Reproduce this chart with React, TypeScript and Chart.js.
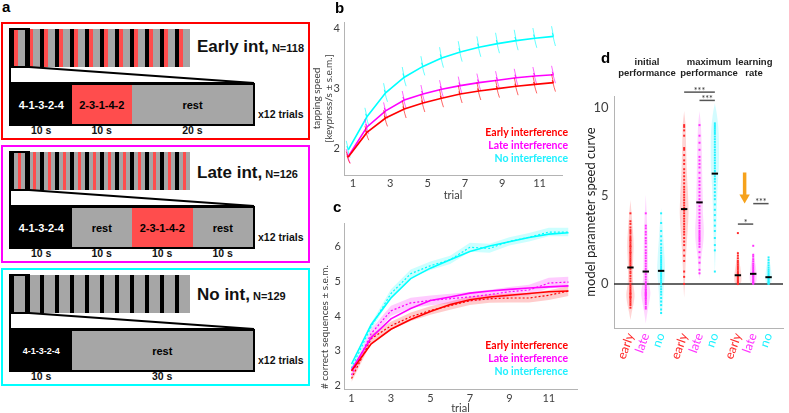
import React, { useEffect, useRef } from 'react';
import { Chart, registerables } from 'chart.js';

Chart.register(...registerables);

// ---------------- panel a data ----------------
const GROUP_NAMES = ['Early int', 'Late int', 'No int'];
const GROUP_N = [118, 126, 129];
const TRIAL_COUNT = 12;
const EARLY_BLOCKS = ['4-1-3-2-4', '2-3-1-4-2', 'rest'];
const EARLY_SECONDS = [10, 10, 20];
const LATE_BLOCKS = ['4-1-3-2-4', 'rest', '2-3-1-4-2', 'rest'];
const LATE_SECONDS = [10, 10, 10, 10];
const NO_BLOCKS = ['4-1-3-2-4', 'rest'];
const NO_SECONDS = [10, 30];

// ---------------- panel b data ----------------
const TRIALS = [1, 2, 3, 4, 5, 6, 7, 8, 9, 10, 11, 12];
const TRIAL_TICKS = [1, 3, 5, 7, 9, 11];
const SPEED_TICKS = [2, 3, 4];
const LEGEND_LABELS = ['Early interference', 'Late interference', 'No interference'];
const SPEED_FIT_EARLY = [1.85, 2.26, 2.5, 2.65, 2.75, 2.83, 2.9, 2.95, 2.99, 3.03, 3.06, 3.09];
const SPEED_FIT_LATE = [1.86, 2.35, 2.62, 2.8, 2.9, 2.98, 3.04, 3.09, 3.13, 3.17, 3.2, 3.22];
const SPEED_FIT_NO = [1.97, 2.52, 2.92, 3.18, 3.36, 3.5, 3.6, 3.68, 3.74, 3.79, 3.83, 3.86];
const SPEED_WITHIN_EARLY = [
  [1.94, 1.84, 1.87, 1.78, 1.74], [2.37, 2.25, 2.29, 2.18, 2.13], [2.63, 2.5, 2.54, 2.42, 2.36],
  [2.79, 2.65, 2.69, 2.57, 2.5], [2.89, 2.75, 2.79, 2.67, 2.6], [2.97, 2.83, 2.87, 2.75, 2.68],
  [3.04, 2.9, 2.94, 2.82, 2.75], [3.09, 2.95, 2.99, 2.87, 2.8], [3.13, 2.99, 3.03, 2.91, 2.84],
  [3.17, 3.03, 3.07, 2.95, 2.88], [3.2, 3.06, 3.1, 2.98, 2.91], [3.23, 3.09, 3.13, 3.01, 2.94],
];
const SPEED_WITHIN_LATE = [
  [1.98, 1.87, 1.9, 1.8, 1.75], [2.48, 2.36, 2.4, 2.29, 2.23], [2.76, 2.63, 2.67, 2.55, 2.49],
  [2.95, 2.81, 2.85, 2.73, 2.66], [3.05, 2.91, 2.95, 2.83, 2.76], [3.13, 2.99, 3.03, 2.91, 2.84],
  [3.19, 3.05, 3.09, 2.97, 2.9], [3.24, 3.1, 3.14, 3.02, 2.95], [3.28, 3.14, 3.18, 3.06, 2.99],
  [3.32, 3.18, 3.22, 3.1, 3.03], [3.35, 3.21, 3.25, 3.13, 3.06], [3.37, 3.23, 3.27, 3.15, 3.08],
];
const SPEED_WITHIN_NO = [
  [2.12, 1.99, 2.03, 1.9, 1.84], [2.67, 2.53, 2.57, 2.44, 2.38], [3.08, 2.93, 2.97, 2.84, 2.77],
  [3.35, 3.19, 3.24, 3.1, 3.03], [3.53, 3.37, 3.42, 3.28, 3.21], [3.68, 3.51, 3.56, 3.42, 3.34],
  [3.78, 3.61, 3.66, 3.52, 3.44], [3.86, 3.69, 3.74, 3.6, 3.52], [3.92, 3.75, 3.8, 3.66, 3.58],
  [3.97, 3.8, 3.85, 3.71, 3.63], [4.0, 3.84, 3.89, 3.75, 3.67], [4.03, 3.87, 3.92, 3.78, 3.7],
];

// ---------------- panel c data ----------------
const SEQ_TICKS = [2, 3, 4, 5, 6];
const SEQ_EARLY_MEAN = [2.42, 3.2, 3.62, 3.9, 4.13, 4.33, 4.47, 4.55, 4.6, 4.65, 4.7, 4.72];
const SEQ_EARLY_ALT = [2.2, 3.35, 3.72, 3.98, 4.16, 4.3, 4.44, 4.5, 4.52, 4.52, 4.6, 4.72];
const SEQ_EARLY_SEM = [0.1, 0.12, 0.12, 0.12, 0.12, 0.12, 0.12, 0.12, 0.13, 0.13, 0.14, 0.14];
const SEQ_LATE_MEAN = [2.45, 3.38, 3.92, 4.22, 4.45, 4.55, 4.66, 4.72, 4.77, 4.81, 4.84, 4.87];
const SEQ_LATE_ALT = [2.3, 3.5, 4.15, 4.38, 4.45, 4.5, 4.55, 4.62, 4.7, 4.75, 4.95, 4.98];
const SEQ_LATE_SEM = [0.1, 0.13, 0.15, 0.15, 0.14, 0.14, 0.14, 0.14, 0.14, 0.15, 0.15, 0.15];
const SEQ_NO_MEAN = [2.62, 3.76, 4.52, 5.08, 5.38, 5.62, 5.86, 6.02, 6.14, 6.26, 6.36, 6.4];
const SEQ_NO_ALT = [2.5, 3.7, 4.65, 5.22, 5.45, 5.62, 5.98, 5.95, 6.15, 6.27, 6.42, 6.42];
const SEQ_NO_SEM = [0.1, 0.1, 0.12, 0.12, 0.12, 0.12, 0.13, 0.13, 0.12, 0.12, 0.12, 0.12];

// ---------------- panel d data ----------------
const PARAM_GROUP_TITLES = [['initial', 'performance'], ['maximum', 'performance'], ['learning', 'rate']];
const PARAM_TICK_LABELS = ['early', 'late', 'no', 'early', 'late', 'no', 'early', 'late', 'no'];
const PARAM_Y_TICKS = [0, 5, 10];
const PARAM_INIT_EARLY = [4.0, 3.55, 3.4, 3.2, 3.05, 2.95, 2.85, 2.7, 2.6, 2.5, 2.45, 2.35, 2.25, 2.15, 2.1, 2.0, 1.9, 1.8, 1.75, 1.65, 1.55, 1.45, 1.35, 1.25, 1.15, 1.05, 0.95, 0.85, 0.7, 0.6, 0.45, 0.3, 0.15, 0.0, -0.1, -0.2, -0.3, -0.4, -0.5, -0.55, -0.6, -0.7, -0.75, -0.8, -0.9, -1.0, -1.1, -1.2, -1.35];
const PARAM_INIT_LATE = [4.0, 3.3, 3.15, 2.95, 2.8, 2.6, 2.45, 2.3, 2.1, 1.9, 1.75, 1.6, 1.45, 1.3, 1.15, 1.0, 0.85, 0.7, 0.55, 0.4, 0.25, 0.1, 0.0, -0.1, -0.2, -0.3, -0.35, -0.45, -0.5, -0.55, -0.6, -0.65, -0.7, -0.8, -0.85, -0.95, -1.05, -1.15, -1.3, -1.4];
const PARAM_INIT_NO = [4.0, 3.45, 3.0, 2.7, 2.45, 2.25, 2.05, 1.9, 1.75, 1.6, 1.5, 1.4, 1.3, 1.2, 1.1, 1.0, 0.9, 0.8, 0.7, 0.6, 0.5, 0.4, 0.3, 0.2, 0.1, 0.0, -0.15, -0.3, -0.45, -0.6, -0.8, -1.0, -1.2, -1.45, -1.65];
const PARAM_MAX_EARLY = [9.0, 8.9, 8.7, 8.4, 7.7, 7.6, 7.3, 7.0, 6.8, 6.5, 6.3, 6.1, 5.9, 5.7, 5.5, 5.35, 5.2, 5.05, 4.9, 4.75, 4.6, 4.45, 4.3, 4.15, 4.0, 3.85, 3.7, 3.55, 3.4, 3.25, 3.1, 2.95, 2.8, 2.6, 2.4, 2.2, 1.9, 1.6, 1.3, 0.7, 0.4, 0.0];
const PARAM_MAX_LATE = [9.0, 8.4, 8.0, 7.6, 7.2, 7.0, 6.8, 6.6, 6.3, 6.0, 5.8, 5.6, 5.4, 5.2, 5.0, 4.8, 4.6, 4.4, 4.2, 4.0, 3.8, 3.6, 3.45, 3.3, 3.15, 3.0, 2.9, 2.8, 2.7, 2.6, 2.5, 2.4, 2.25, 2.1, 1.8, 1.5, 1.2, 0.8, 0.6];
const PARAM_MAX_NO = [9.1, 9.0, 8.9, 8.8, 8.7, 8.6, 8.5, 8.35, 8.2, 8.05, 7.9, 7.75, 7.6, 7.45, 7.3, 7.15, 7.0, 6.85, 6.7, 6.55, 6.4, 6.25, 6.1, 5.95, 5.8, 5.6, 5.4, 5.2, 5.0, 4.8, 4.5, 4.2, 3.9, 3.6, 3.3, 3.0, 2.6, 2.2, 1.9, 0.7];
const PARAM_RATE_EARLY = [2.88, 1.74, 1.6, 1.45, 1.3, 1.2, 1.1, 1.0, 0.9, 0.8, 0.7, 0.62, 0.55, 0.48, 0.4, 0.33, 0.26, 0.2, 0.14, 0.08, 0.03, 0.0];
const PARAM_RATE_LATE = [2.16, 1.65, 1.55, 1.4, 1.28, 1.15, 1.05, 0.95, 0.85, 0.76, 0.68, 0.6, 0.52, 0.45, 0.38, 0.3, 0.23, 0.16, 0.1, 0.05, 0.0];
const PARAM_RATE_NO = [1.5, 1.35, 1.2, 1.05, 0.92, 0.8, 0.7, 0.6, 0.5, 0.42, 0.35, 0.28, 0.2, 0.14, 0.08, 0.03, 0.0];
const PARAM_MEDIANS = [0.93, 0.7, 0.74, 4.24, 4.62, 6.25, 0.49, 0.57, 0.38];
// violin density profiles: [value, relative density]
const DENS_INIT_EARLY = [[4.75, 0], [4.0, 0.25], [3.0, 0.55], [2.2, 0.7], [1.4, 0.6], [0.6, 0.5], [0, 0.6], [-0.6, 0.9], [-1.1, 0.7], [-1.6, 0.3], [-2.05, 0]];
const DENS_INIT_LATE = [[5.05, 0], [4.0, 0.2], [3.0, 0.35], [2.0, 0.45], [1.0, 0.5], [0.2, 0.6], [-0.5, 1.0], [-1.1, 0.7], [-1.7, 0.3], [-2.25, 0]];
const DENS_INIT_NO = [[4.3, 0], [3.5, 0.25], [2.5, 0.5], [1.5, 0.75], [0.8, 0.85], [0.2, 0.7], [-0.5, 0.5], [-1.2, 0.35], [-1.85, 0]];
const DENS_MAX_EARLY = [[9.8, 0], [9.0, 0.3], [7.5, 0.45], [6.0, 0.65], [5.0, 0.85], [4.0, 0.95], [3.0, 0.75], [2.0, 0.5], [1.0, 0.3], [0, 0.15], [-0.8, 0]];
const DENS_MAX_LATE = [[9.8, 0], [9.0, 0.3], [7.5, 0.5], [6.0, 0.6], [5.0, 0.7], [4.0, 0.75], [3.0, 0.95], [2.3, 0.8], [1.5, 0.4], [0.8, 0.2], [0.25, 0]];
const DENS_MAX_NO = [[10.25, 0], [9.5, 0.5], [8.5, 0.85], [7.5, 0.9], [6.5, 0.85], [5.5, 0.6], [4.5, 0.45], [3.5, 0.35], [2.5, 0.25], [1.5, 0.12], [0.6, 0]];
const DENS_RATE_EARLY = [[1.9, 0], [1.5, 0.25], [1.0, 0.5], [0.5, 0.75], [0.1, 0.7], [-0.1, 0]];
const DENS_RATE_LATE = [[1.8, 0], [1.4, 0.3], [1.0, 0.55], [0.5, 0.75], [0.1, 0.65], [-0.05, 0]];
const DENS_RATE_NO = [[1.6, 0], [1.2, 0.3], [0.8, 0.55], [0.4, 0.7], [0.1, 0.6], [-0.05, 0]];
// significance bars: category indices and height in data units
const SIG_FROM = [3, 4, 6, 7];
const SIG_TO = [5, 5, 7, 8];
const SIG_Y = [10.87, 10.4, 3.39, 4.55];
const SIG_MARK = ['***', '***', '*', '***'];
const ARROW_X = 7.44;
const ARROW_FROM = 6.32;
const ARROW_TO = 4.89;

// ---------------- styles ----------------
const RED = '#ff0000';
const MAGENTA = '#ff00ff';
const CYAN = '#00ffff';
const ORANGE = '#f6a21c';
const ARIAL = '"Liberation Sans", Arial, sans-serif';
const LATO = 'Lato, "Open Sans", sans-serif';
const AXIS_GRAY = '#b4b4b4';
const TICK_GRAY = '#404040';
const SERIES_COLORS = [RED, MAGENTA, CYAN];
const CAT_COLOR: Record<string, string> = { early: '#ff2a2a', late: '#ff33ff', no: '#22f2ff' };
const FILL_OF: Record<string, string> = { '4-1-3-2-4': '#000000', '2-3-1-4-2': '#ff4d4d', rest: '#a6a6a6' };
const TEXT_OF: Record<string, string> = { '4-1-3-2-4': '#ffffff', '2-3-1-4-2': '#000000', rest: '#000000' };

function rgba(hex: string, a: number) {
  const n = parseInt(hex.slice(1), 16);
  return `rgba(${(n >> 16) & 255},${(n >> 8) & 255},${n & 255},${a})`;
}
const setTicks = (values: number[]) => (s: any) => { s.ticks = values.map((v) => ({ value: v })); };
const fixW = (w: number) => (s: any) => { s.width = w; };
const fixH = (h: number) => (s: any) => { s.height = h; };
const tickFont = (size: number) => ({ family: LATO, size });

// ---------------- chart b ----------------
const FIT_SHIFT = -0.25;
const WITHIN_OFFSETS = [-0.36, -0.26, -0.32, -0.22, -0.15];

function speedConfig(): any {
  const fits = [SPEED_FIT_EARLY, SPEED_FIT_LATE, SPEED_FIT_NO];
  const within = [SPEED_WITHIN_EARLY, SPEED_WITHIN_LATE, SPEED_WITHIN_NO];
  const datasets: any[] = [];
  fits.forEach((fit, s) => {
    datasets.push({
      data: fit.map((v, i) => ({ x: TRIALS[i] + FIT_SHIFT, y: v })),
      borderColor: SERIES_COLORS[s], borderWidth: 1.6, pointRadius: 0, tension: 0,
    });
    within[s].forEach((vals, i) => {
      datasets.push({
        data: vals.map((v, j) => ({ x: TRIALS[i] + WITHIN_OFFSETS[j], y: v })),
        borderColor: rgba(SERIES_COLORS[s], 0.6), borderWidth: 1, pointRadius: 0,
      });
    });
  });
  return {
    type: 'line',
    data: { datasets },
    options: {
      animation: false, responsive: false, devicePixelRatio: 1,
      layout: { padding: { left: 0, top: 22, right: 10, bottom: 0 } },
      plugins: { legend: { display: false }, tooltip: { enabled: false } },
      scales: {
        x: {
          type: 'linear', bounds: 'data', min: 0.52, max: 12.2,
          afterBuildTicks: setTicks(TRIAL_TICKS), afterFit: fixH(30),
          grid: { display: false, drawTicks: false }, border: { display: true, color: AXIS_GRAY },
          ticks: { color: TICK_GRAY, font: tickFont(11), padding: 2, maxRotation: 0, autoSkip: false },
          title: { display: true, text: 'trial', color: TICK_GRAY, font: tickFont(11), padding: { top: 0, bottom: 3 } },
        },
        y: {
          type: 'linear', bounds: 'data', min: 1.55, max: 4.1,
          afterBuildTicks: setTicks(SPEED_TICKS), afterFit: fixW(44),
          grid: { display: false, drawTicks: false }, border: { display: true, color: AXIS_GRAY },
          ticks: { color: TICK_GRAY, font: tickFont(11), padding: 4 },
          title: { display: true, text: ['tapping speed', '[keypress/s ± s.e.m.]'], color: TICK_GRAY, font: tickFont(10), padding: { top: 11, bottom: 0 } },
        },
      },
    },
  };
}

// ---------------- chart c ----------------
function seqConfig(): any {
  const means = [SEQ_EARLY_MEAN, SEQ_LATE_MEAN, SEQ_NO_MEAN];
  const alts = [SEQ_EARLY_ALT, SEQ_LATE_ALT, SEQ_NO_ALT];
  const sems = [SEQ_EARLY_SEM, SEQ_LATE_SEM, SEQ_NO_SEM];
  const datasets: any[] = [];
  means.forEach((mean, s) => {
    const c = SERIES_COLORS[s];
    datasets.push({ data: alts[s].map((v, i) => ({ x: TRIALS[i], y: v - sems[s][i] })), borderWidth: 0, pointRadius: 0, fill: false, order: 3 });
    datasets.push({ data: alts[s].map((v, i) => ({ x: TRIALS[i], y: v + sems[s][i] })), borderWidth: 0, pointRadius: 0, fill: '-1', backgroundColor: rgba(c, 0.2), order: 3 });
    datasets.push({ data: alts[s].map((v, i) => ({ x: TRIALS[i], y: v })), borderColor: c, borderWidth: 1.2, borderDash: [2, 2], pointRadius: 0, order: 2 });
    datasets.push({ data: mean.map((v, i) => ({ x: TRIALS[i], y: v })), borderColor: c, borderWidth: 1.6, pointRadius: 0, order: 1 });
  });
  return {
    type: 'line',
    data: { datasets },
    options: {
      animation: false, responsive: false, devicePixelRatio: 1,
      layout: { padding: { left: 0, top: 23, right: 3, bottom: 0 } },
      plugins: { legend: { display: false }, tooltip: { enabled: false } },
      scales: {
        x: {
          type: 'linear', bounds: 'data', min: 0.62, max: 12.43,
          afterBuildTicks: setTicks(TRIAL_TICKS), afterFit: fixH(31),
          grid: { display: false, drawTicks: false }, border: { display: true, color: AXIS_GRAY },
          ticks: { color: TICK_GRAY, font: tickFont(11), padding: 3, maxRotation: 0, autoSkip: false },
          title: { display: true, text: 'trial', color: TICK_GRAY, font: tickFont(11), padding: { top: 0, bottom: 5 } },
        },
        y: {
          type: 'linear', bounds: 'data', min: 1.9, max: 6.68,
          afterBuildTicks: setTicks(SEQ_TICKS), afterFit: fixW(44),
          grid: { display: false, drawTicks: false }, border: { display: true, color: AXIS_GRAY },
          ticks: { color: TICK_GRAY, font: tickFont(11), padding: 3 },
          title: { display: true, text: '# correct sequences ± s.e.m.', align: 'start', color: TICK_GRAY, font: tickFont(10), padding: { top: 19, bottom: 0 } },
        },
      },
    },
  };
}

// ---------------- chart d ----------------
const slotX = (i: number) => Math.floor(i / 3) * 3.5 + (i % 3);
const VIOLIN_HALF = 0.3;

function paramConfig(): any {
  const values = [PARAM_INIT_EARLY, PARAM_INIT_LATE, PARAM_INIT_NO, PARAM_MAX_EARLY, PARAM_MAX_LATE, PARAM_MAX_NO, PARAM_RATE_EARLY, PARAM_RATE_LATE, PARAM_RATE_NO];
  const dens = [DENS_INIT_EARLY, DENS_INIT_LATE, DENS_INIT_NO, DENS_MAX_EARLY, DENS_MAX_LATE, DENS_MAX_NO, DENS_RATE_EARLY, DENS_RATE_LATE, DENS_RATE_NO];
  const datasets: any[] = [];
  datasets.push({
    data: PARAM_MEDIANS.map((m, i) => ({ x: slotX(i), y: m })), showLine: false,
    pointStyle: 'line', pointRadius: 3.2, pointBorderWidth: 2, pointBorderColor: '#000', order: 0,
  });
  values.forEach((vals, i) => {
    const c = CAT_COLOR[PARAM_TICK_LABELS[i]];
    datasets.push({
      data: vals.map((v) => ({ x: slotX(i), y: v })), showLine: false,
      pointStyle: 'rect', pointRadius: 1.4, pointBorderWidth: 0, pointBackgroundColor: c, order: 1,
    });
  });
  datasets.push({ data: [{ x: -2, y: 0 }, { x: 11, y: 0 }], borderColor: '#333', borderWidth: 1.5, pointRadius: 0, order: 2 });
  SIG_Y.forEach((y, k) => {
    datasets.push({ data: [{ x: slotX(SIG_FROM[k]), y }, { x: slotX(SIG_TO[k]), y }], borderColor: '#555', borderWidth: 1.5, pointRadius: 0, clip: false, order: 2 });
  });
  datasets.push({ data: [{ x: ARROW_X, y: ARROW_FROM }, { x: ARROW_X, y: ARROW_TO + 0.15 }], borderColor: ORANGE, borderWidth: 3.5, pointRadius: 0, order: 2 });
  datasets.push({ data: [{ x: ARROW_X, y: ARROW_TO }], showLine: false, pointStyle: 'triangle', pointRotation: 180, pointRadius: 6, pointBorderWidth: 0, pointBackgroundColor: ORANGE, order: 2 });
  dens.forEach((prof, i) => {
    const x0 = slotX(i);
    const c = CAT_COLOR[PARAM_TICK_LABELS[i]];
    const left = prof.map(([v, d]) => ({ x: x0 - d * VIOLIN_HALF, y: v }));
    const right = [...prof].reverse().map(([v, d]) => ({ x: x0 + d * VIOLIN_HALF, y: v }));
    datasets.push({ data: [...left, ...right], borderWidth: 0, pointRadius: 0, fill: 'shape', backgroundColor: rgba(c, 0.2), tension: 0.3, order: 5 });
  });
  const sigText = {
    id: 'sigText',
    afterDatasetsDraw(chart: any) {
      const { ctx, scales } = chart;
      ctx.save();
      ctx.fillStyle = '#333';
      ctx.font = `9px ${LATO}`;
      ctx.textAlign = 'center';
      ctx.textBaseline = 'alphabetic';
      SIG_MARK.forEach((m, k) => {
        const px = scales.x.getPixelForValue((slotX(SIG_FROM[k]) + slotX(SIG_TO[k])) / 2);
        const py = scales.y.getPixelForValue(SIG_Y[k]);
        ctx.fillText(m, px, py + 1.5);
      });
      ctx.restore();
    },
  };
  return {
    type: 'line',
    data: { datasets },
    plugins: [sigText],
    options: {
      animation: false, responsive: false, devicePixelRatio: 1,
      layout: { padding: { left: 0, top: 16, right: 0, bottom: 0 } },
      plugins: { legend: { display: false }, tooltip: { enabled: false } },
      scales: {
        x: {
          type: 'linear', bounds: 'data', min: -1.07, max: 9.94,
          afterBuildTicks: setTicks(PARAM_TICK_LABELS.map((_, i) => slotX(i))), afterFit: fixH(42),
          grid: { display: false, drawTicks: false }, border: { display: true, color: AXIS_GRAY },
          ticks: {
            autoSkip: false, minRotation: 70, maxRotation: 70, padding: 3, font: tickFont(12.5),
            color: (ctx: any) => CAT_COLOR[PARAM_TICK_LABELS[ctx.index]] || '#000',
            callback: (_v: any, i: number) => PARAM_TICK_LABELS[i],
          },
        },
        y: {
          type: 'linear', bounds: 'data', min: -2.5, max: 10.65,
          afterBuildTicks: setTicks(PARAM_Y_TICKS), afterFit: fixW(54),
          grid: { display: false, drawTicks: false }, border: { display: true, color: AXIS_GRAY },
          ticks: { color: TICK_GRAY, font: tickFont(13), padding: 5.5 },
          title: { display: true, text: 'model parameter speed curve', color: '#202020', font: tickFont(13), padding: { top: 23, bottom: 0 } },
        },
      },
    },
  };
}

function ChartBox({ left, top, width, height, make }: any) {
  const ref = useRef<HTMLCanvasElement>(null);
  useEffect(() => {
    const chart = new Chart(ref.current as HTMLCanvasElement, make());
    return () => chart.destroy();
  }, []);
  return <canvas ref={ref} width={width} height={height} style={{ position: 'absolute', left, top, width, height }} />;
}

// ---------------- panel a ----------------
function Protocol({ top, color, name, n, blocks, seconds, titleDy, firstFont }: any) {
  const total = seconds.reduce((a: number, b: number) => a + b, 0);
  const stripT = top + 7;
  const stripH = 38;
  const barT = top + 61;
  const barL = 9;
  const barW = 246;
  const inner = barW - 4;
  const cells: any[] = [];
  for (let t = 0; t < TRIAL_COUNT; t++) {
    blocks.forEach((b: string, i: number) => cells.push(
      <div key={`${t}-${i}`} style={{ flex: `${seconds[i]} 1 0px`, background: FILL_OF[b] }} />,
    ));
  }
  let acc = 0;
  const timeLabels = seconds.map((s: number, i: number) => {
    const x = barL + 2 + (acc / total) * inner;
    const w = (s / total) * inner;
    acc += s;
    return (
      <div key={i} style={{ position: 'absolute', left: x, width: w, top: top + 102, lineHeight: '14px', textAlign: 'center', font: `bold 10.5px ${ARIAL}`, color: '#111' }}>
        {s} s
      </div>
    );
  });
  return (
    <>
      <div style={{ position: 'absolute', left: 1, top, width: 309, height: 118, border: `2px solid ${color}`, boxSizing: 'border-box' }} />
      <div style={{ position: 'absolute', left: 10, top: stripT, width: 180, height: stripH, display: 'flex' }}>{cells}</div>
      <div style={{ position: 'absolute', left: 9, top: stripT - 1, width: 21, height: stripH + 2, border: '2px solid #000', boxSizing: 'border-box' }} />
      <svg style={{ position: 'absolute', left: 0, top: stripT + stripH - 1 }} width={262} height={barT - (stripT + stripH) + 3}>
        <polygon points={`10,1 29,1 254,${barT - (stripT + stripH) + 1} 10,${barT - (stripT + stripH) + 1}`} fill="#fff" stroke="#000" strokeWidth={2} />
      </svg>
      <div style={{ position: 'absolute', left: barL, top: barT, width: barW, height: 43, border: '2px solid #000', boxSizing: 'border-box', display: 'flex' }}>
        {blocks.map((b: string, i: number) => (
          <div key={i} style={{ flex: `${seconds[i]} 1 0px`, background: FILL_OF[b], color: TEXT_OF[b], display: 'flex', alignItems: 'center', justifyContent: 'center', font: `bold ${i === 0 ? firstFont : 11}px ${ARIAL}` }}>
            {b}
          </div>
        ))}
      </div>
      {timeLabels}
      <div style={{ position: 'absolute', left: 258, top: top + 86, lineHeight: '14px', font: `bold 10.5px ${ARIAL}`, color: '#111', whiteSpace: 'nowrap' }}>
        x{TRIAL_COUNT} trials
      </div>
      <div style={{ position: 'absolute', left: 197, top: top + titleDy - 9.8, lineHeight: '20px', fontFamily: ARIAL, fontWeight: 'bold', color: '#111', whiteSpace: 'nowrap' }}>
        <span style={{ fontSize: 17 }}>{name},</span>
        <span style={{ fontSize: 11 }}> N={n}</span>
      </div>
    </>
  );
}

function PanelLabel({ text, left, top }: any) {
  return <div style={{ position: 'absolute', left, top, font: `bold 15px ${ARIAL}`, lineHeight: '15px', color: '#000' }}>{text}</div>;
}

function Legend({ left, top }: any) {
  return (
    <div style={{ position: 'absolute', left, top, width: 110, textAlign: 'right', font: `bold 10.5px ${LATO}`, lineHeight: '13px' }}>
      {LEGEND_LABELS.map((l, i) => (
        <div key={i} style={{ color: SERIES_COLORS[i] === CYAN ? '#1ff0ff' : SERIES_COLORS[i] }}>{l}</div>
      ))}
    </div>
  );
}

const BOX_TOPS = [22, 145, 268];
const BOX_COLORS = ['#ff0000', '#ff00ff', '#00ffff'];
const TITLE_DY = [25, 27.5, 27];
const HEADING_X = [647, 709, 754];

export default function App() {
  const blocks = [EARLY_BLOCKS, LATE_BLOCKS, NO_BLOCKS];
  const secs = [EARLY_SECONDS, LATE_SECONDS, NO_SECONDS];
  return (
    <div style={{ position: 'fixed', left: 0, top: 0, width: 789, height: 413, background: '#fff', overflow: 'hidden' }}>
      {GROUP_NAMES.map((g, i) => (
        <Protocol key={g} top={BOX_TOPS[i]} color={BOX_COLORS[i]} name={g} n={GROUP_N[i]} blocks={blocks[i]} seconds={secs[i]} titleDy={TITLE_DY[i]} firstFont={i === 2 ? 9 : 11} />
      ))}
      <ChartBox left={300} top={0} width={272} height={205} make={speedConfig} />
      <ChartBox left={300} top={200} width={280} height={220} make={seqConfig} />
      <ChartBox left={560} top={80} width={229} height={290} make={paramConfig} />
      <Legend left={458} top={125.5} />
      <Legend left={458} top={338.5} />
      {PARAM_GROUP_TITLES.map((t, i) => (
        <div key={i} style={{ position: 'absolute', left: HEADING_X[i] - 45, top: 56, width: 90, textAlign: 'center', font: `bold 9.5px ${ARIAL}`, lineHeight: '11px', color: '#222' }}>
          {t[0]}<br />{t[1]}
        </div>
      ))}
      <PanelLabel text="a" left={2} top={-1} />
      <PanelLabel text="b" left={335} top={0} />
      <PanelLabel text="c" left={333} top={199} />
      <PanelLabel text="d" left={601} top={50} />
    </div>
  );
}
